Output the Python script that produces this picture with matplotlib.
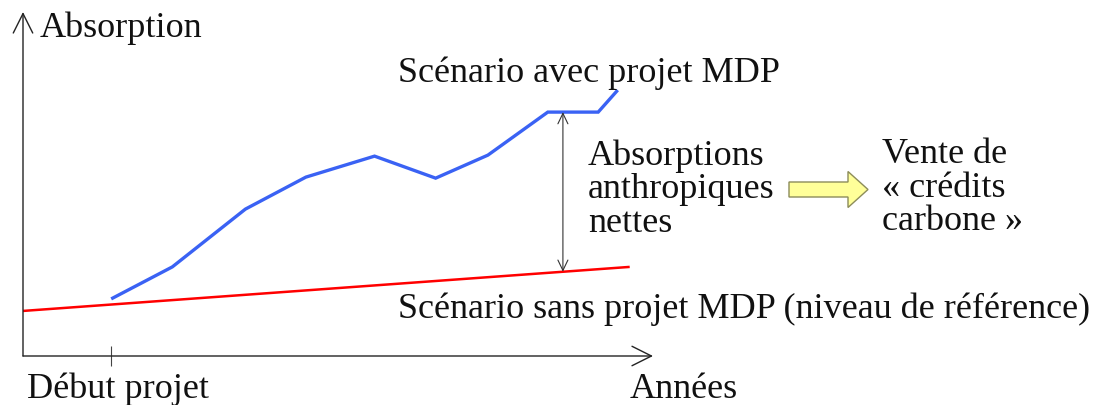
import numpy as np
import matplotlib
matplotlib.use("Agg")
import matplotlib.pyplot as plt
from matplotlib.patches import FancyArrow, ArrowStyle

# ---- data (arbitrary units) ----
annees_projet = [14.0, 23.7, 35.3, 44.9, 55.8, 65.5, 73.8, 83.3, 91.3, 94.4]
absorption_avec_projet = [16.6, 25.9, 42.7, 52.0, 58.1, 51.7, 58.4, 70.9, 70.9, 77.3]
annees_reference = [0.0, 96.3]
absorption_sans_projet = [13.1, 25.9]
annee_ecart = 85.7            # where the "net absorptions" gap is measured
debut_projet = annees_projet[0]

W, H = 1095, 406
plt.rcParams['font.family'] = ['Liberation Serif', 'DejaVu Serif']
FS = 26

fig = plt.figure(figsize=(W / 100, H / 100), dpi=100)
fig.patch.set_facecolor('white')

# main axes: origin at pixel (23, 357), top at y=13, right at x=653
ax = fig.add_axes([23 / W, (H - 357) / H, 630 / W, 344 / H])
ax.set_xlim(0, 100)
ax.set_ylim(0, 100)
ax.patch.set_alpha(0)
for s in ax.spines.values():
    s.set_visible(False)
ax.set_yticks([])
ax.set_xticks([debut_projet])
ax.set_xticklabels([])
ax.tick_params(axis='x', direction='inout', length=15, width=0.8, color='#444444')

axis_style = ArrowStyle('->', head_length=14, head_width=7)
ax.annotate('', xy=(1, 0), xytext=(0, 0), xycoords='axes fraction',
            arrowprops=dict(arrowstyle=axis_style, mutation_scale=1, lw=1.0,
                            color='#222222', shrinkA=0, shrinkB=0))
ax.annotate('', xy=(0, 1), xytext=(0, 0), xycoords='axes fraction',
            arrowprops=dict(arrowstyle=axis_style, mutation_scale=1, lw=1.0,
                            color='#222222', shrinkA=0, shrinkB=0))

# scenario lines
ax.plot(annees_reference, absorption_sans_projet, color='#FF0000', lw=1.8,
        solid_capstyle='butt')
ax.plot(annees_projet, absorption_avec_projet, color='#3A62F4', lw=2.4,
        solid_capstyle='butt', solid_joinstyle='miter')

# gap arrow
y_top = np.interp(annee_ecart, annees_projet, absorption_avec_projet)
y_bot = np.interp(annee_ecart, annees_reference, absorption_sans_projet)
gap_style = ArrowStyle('<->', head_length=7.5, head_width=3.6)
ax.annotate('', xy=(annee_ecart, y_bot), xytext=(annee_ecart, y_top),
            arrowprops=dict(arrowstyle=gap_style, mutation_scale=1, lw=0.8,
                            color='#333333', shrinkA=0, shrinkB=0))

# overlay in pixel coordinates for texts and the yellow arrow
ov = fig.add_axes([0, 0, 1, 1])
ov.set_xlim(0, W)
ov.set_ylim(H, 0)
ov.axis('off')
ov.patch.set_alpha(0)

ov.add_patch(FancyArrow(789, 190.5, 79, 0, width=15, head_width=36,
                        head_length=20, length_includes_head=True,
                        facecolor='#FFFF99', edgecolor='#8C8C5A', lw=1.0))

def txt(x, y, s):
    ov.text(x, y, s, fontsize=FS, ha='left', va='baseline', color='#111111')

txt(40, 37, 'Absorption')
txt(398, 82, 'Scénario avec projet MDP')
txt(588, 165, 'Absorptions')
txt(588, 198, 'anthropiques')
txt(588, 232, 'nettes')
txt(882, 163, 'Vente de')
txt(882, 197, '« crédits')
txt(882, 230, 'carbone »')
txt(398, 318, 'Scénario sans projet MDP (niveau de référence)')
txt(27, 398, 'Début projet')
txt(630, 398, 'Années')

fig.savefig('out.png', dpi=100)
